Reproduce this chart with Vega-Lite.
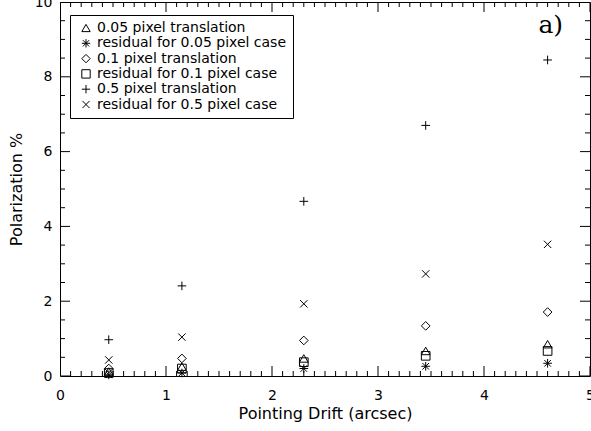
{
  "$schema": "https://vega.github.io/schema/vega-lite/v6.json",
  "width": 530,
  "height": 374,
  "autosize": {"type": "none"},
  "padding": {"left": 60, "top": 2, "right": 1, "bottom": 55},
  "background": "white",
  "config": {
    "view": {"stroke": "black", "strokeWidth": 1},
    "axis": {
      "grid": false,
      "domain": false,
      "labelFont": "DejaVu Sans",
      "labelFontSize": 14,
      "labelColor": "black",
      "titleFont": "DejaVu Sans",
      "titleFontSize": 16,
      "titleFontWeight": "normal",
      "titleColor": "black",
      "labelFlush": false,
      "labelOverlap": false
    },
    "legend": {
      "strokeColor": "black",
      "strokeWidth": 1,
      "padding": 6,
      "labelFont": "DejaVu Sans",
      "labelFontSize": 14,
      "labelColor": "black",
      "labelLimit": 400,
      "symbolSize": 70,
      "symbolStrokeWidth": 1,
      "symbolStrokeColor": "black",
      "symbolFillColor": "transparent",
      "rowPadding": 1.3,
      "labelOffset": 4,
      "symbolOffset": 3
    }
  },
  "title": {
    "text": "Polarization error vs Pointing Drift for a 30% Circular Source",
    "orient": "bottom",
    "anchor": "start",
    "dx": -56,
    "offset": 10,
    "font": "DejaVu Sans",
    "fontSize": 20,
    "fontWeight": "normal",
    "color": "black"
  },
  "datasets": {
    "pts": [
      {"series": "0.05 pixel translation", "drift": 0.46, "pol": 0.12},
      {"series": "0.05 pixel translation", "drift": 1.15, "pol": 0.25},
      {"series": "0.05 pixel translation", "drift": 2.3, "pol": 0.47},
      {"series": "0.05 pixel translation", "drift": 3.45, "pol": 0.67},
      {"series": "0.05 pixel translation", "drift": 4.6, "pol": 0.85},
      {"series": "residual for 0.05 pixel case", "drift": 0.46, "pol": 0.03},
      {"series": "residual for 0.05 pixel case", "drift": 1.15, "pol": 0.08},
      {"series": "residual for 0.05 pixel case", "drift": 2.3, "pol": 0.2},
      {"series": "residual for 0.05 pixel case", "drift": 3.45, "pol": 0.26},
      {"series": "residual for 0.05 pixel case", "drift": 4.6, "pol": 0.34},
      {"series": "0.1 pixel translation", "drift": 0.46, "pol": 0.2},
      {"series": "0.1 pixel translation", "drift": 1.15, "pol": 0.47},
      {"series": "0.1 pixel translation", "drift": 2.3, "pol": 0.95},
      {"series": "0.1 pixel translation", "drift": 3.45, "pol": 1.34},
      {"series": "0.1 pixel translation", "drift": 4.6, "pol": 1.71},
      {"series": "residual for 0.1 pixel case", "drift": 0.46, "pol": 0.08},
      {"series": "residual for 0.1 pixel case", "drift": 1.15, "pol": 0.2},
      {"series": "residual for 0.1 pixel case", "drift": 2.3, "pol": 0.37},
      {"series": "residual for 0.1 pixel case", "drift": 3.45, "pol": 0.54},
      {"series": "residual for 0.1 pixel case", "drift": 4.6, "pol": 0.67},
      {"series": "0.5 pixel translation", "drift": 0.46, "pol": 0.97},
      {"series": "0.5 pixel translation", "drift": 1.15, "pol": 2.41},
      {"series": "0.5 pixel translation", "drift": 2.3, "pol": 4.67},
      {"series": "0.5 pixel translation", "drift": 3.45, "pol": 6.7},
      {"series": "0.5 pixel translation", "drift": 4.6, "pol": 8.45},
      {"series": "residual for 0.5 pixel case", "drift": 0.46, "pol": 0.43},
      {"series": "residual for 0.5 pixel case", "drift": 1.15, "pol": 1.04},
      {"series": "residual for 0.5 pixel case", "drift": 2.3, "pol": 1.93},
      {"series": "residual for 0.5 pixel case", "drift": 3.45, "pol": 2.73},
      {"series": "residual for 0.5 pixel case", "drift": 4.6, "pol": 3.52}
    ],
    "xticks": [
      {"v": 0, "kind": "major"}, {"v": 0.1, "kind": "minor"}, {"v": 0.2, "kind": "minor"}, {"v": 0.3, "kind": "minor"}, {"v": 0.4, "kind": "minor"}, {"v": 0.5, "kind": "minor"}, {"v": 0.6, "kind": "minor"}, {"v": 0.7, "kind": "minor"}, {"v": 0.8, "kind": "minor"}, {"v": 0.9, "kind": "minor"},
      {"v": 1, "kind": "major"}, {"v": 1.1, "kind": "minor"}, {"v": 1.2, "kind": "minor"}, {"v": 1.3, "kind": "minor"}, {"v": 1.4, "kind": "minor"}, {"v": 1.5, "kind": "minor"}, {"v": 1.6, "kind": "minor"}, {"v": 1.7, "kind": "minor"}, {"v": 1.8, "kind": "minor"}, {"v": 1.9, "kind": "minor"},
      {"v": 2, "kind": "major"}, {"v": 2.1, "kind": "minor"}, {"v": 2.2, "kind": "minor"}, {"v": 2.3, "kind": "minor"}, {"v": 2.4, "kind": "minor"}, {"v": 2.5, "kind": "minor"}, {"v": 2.6, "kind": "minor"}, {"v": 2.7, "kind": "minor"}, {"v": 2.8, "kind": "minor"}, {"v": 2.9, "kind": "minor"},
      {"v": 3, "kind": "major"}, {"v": 3.1, "kind": "minor"}, {"v": 3.2, "kind": "minor"}, {"v": 3.3, "kind": "minor"}, {"v": 3.4, "kind": "minor"}, {"v": 3.5, "kind": "minor"}, {"v": 3.6, "kind": "minor"}, {"v": 3.7, "kind": "minor"}, {"v": 3.8, "kind": "minor"}, {"v": 3.9, "kind": "minor"},
      {"v": 4, "kind": "major"}, {"v": 4.1, "kind": "minor"}, {"v": 4.2, "kind": "minor"}, {"v": 4.3, "kind": "minor"}, {"v": 4.4, "kind": "minor"}, {"v": 4.5, "kind": "minor"}, {"v": 4.6, "kind": "minor"}, {"v": 4.7, "kind": "minor"}, {"v": 4.8, "kind": "minor"}, {"v": 4.9, "kind": "minor"},
      {"v": 5, "kind": "major"}
    ],
    "yticks": [
      {"v": 0, "kind": "major"}, {"v": 0.5, "kind": "minor"}, {"v": 1, "kind": "minor"}, {"v": 1.5, "kind": "minor"},
      {"v": 2, "kind": "major"}, {"v": 2.5, "kind": "minor"}, {"v": 3, "kind": "minor"}, {"v": 3.5, "kind": "minor"},
      {"v": 4, "kind": "major"}, {"v": 4.5, "kind": "minor"}, {"v": 5, "kind": "minor"}, {"v": 5.5, "kind": "minor"},
      {"v": 6, "kind": "major"}, {"v": 6.5, "kind": "minor"}, {"v": 7, "kind": "minor"}, {"v": 7.5, "kind": "minor"},
      {"v": 8, "kind": "major"}, {"v": 8.5, "kind": "minor"}, {"v": 9, "kind": "minor"}, {"v": 9.5, "kind": "minor"},
      {"v": 10, "kind": "major"}
    ],
    "note": [
      {"drift": 4.63, "pol": 9.17, "label": "a)"}
    ]
  },
  "layer": [
    {
      "data": {"name": "pts"},
      "mark": {"type": "point", "filled": false, "color": "black", "strokeWidth": 1, "size": 75, "opacity": 1},
      "encoding": {
        "x": {
          "field": "drift", "type": "quantitative", "title": "Pointing Drift (arcsec)",
          "scale": {"domain": [0, 5], "nice": false, "zero": false},
          "axis": {"orient": "bottom", "values": [0, 1, 2, 3, 4, 5], "format": "d", "ticks": false, "labelPadding": 12, "title": "Pointing Drift (arcsec)", "titlePadding": 3}
        },
        "y": {
          "field": "pol", "type": "quantitative", "title": "Polarization %",
          "scale": {"domain": [0, 10], "nice": false, "zero": false},
          "axis": {"orient": "left", "values": [0, 2, 4, 6, 8, 10], "format": "d", "ticks": false, "labelPadding": 8, "title": "Polarization %", "titlePadding": 10}
        },
        "shape": {
          "field": "series", "type": "nominal",
          "scale": {
            "domain": ["0.05 pixel translation", "residual for 0.05 pixel case", "0.1 pixel translation", "residual for 0.1 pixel case", "0.5 pixel translation", "residual for 0.5 pixel case"],
            "range": ["triangle-up", "M-1,0L1,0M0,-1L0,1M-0.75,-0.75L0.75,0.75M-0.75,0.75L0.75,-0.75", "diamond", "square", "M-1,0L1,0M0,-1L0,1", "M-0.85,-0.85L0.85,0.85M-0.85,0.85L0.85,-0.85"]
          },
          "legend": {"orient": "none", "legendX": 10, "legendY": 13, "title": null}
        }
      }
    },
    {
      "data": {"name": "xticks"},
      "mark": {"type": "tick", "orient": "vertical", "color": "black", "thickness": 1, "clip": true, "opacity": 1},
      "encoding": {
        "x": {"field": "v", "type": "quantitative", "title": "Pointing Drift (arcsec)"},
        "y": {"datum": 0, "type": "quantitative", "title": "Polarization %"},
        "size": {"field": "kind", "type": "nominal", "scale": {"domain": ["major", "minor"], "range": [20, 10]}, "legend": null}
      }
    },
    {
      "data": {"name": "xticks"},
      "mark": {"type": "tick", "orient": "vertical", "color": "black", "thickness": 1, "clip": true, "opacity": 1},
      "encoding": {
        "x": {"field": "v", "type": "quantitative", "title": "Pointing Drift (arcsec)"},
        "y": {"datum": 10, "type": "quantitative", "title": "Polarization %"},
        "size": {"field": "kind", "type": "nominal", "scale": {"domain": ["major", "minor"], "range": [20, 10]}, "legend": null}
      }
    },
    {
      "data": {"name": "yticks"},
      "mark": {"type": "tick", "orient": "horizontal", "color": "black", "thickness": 1, "clip": true, "opacity": 1},
      "encoding": {
        "y": {"field": "v", "type": "quantitative", "title": "Polarization %"},
        "x": {"datum": 0, "type": "quantitative", "title": "Pointing Drift (arcsec)"},
        "size": {"field": "kind", "type": "nominal", "scale": {"domain": ["major", "minor"], "range": [20, 10]}, "legend": null}
      }
    },
    {
      "data": {"name": "yticks"},
      "mark": {"type": "tick", "orient": "horizontal", "color": "black", "thickness": 1, "clip": true, "opacity": 1},
      "encoding": {
        "y": {"field": "v", "type": "quantitative", "title": "Polarization %"},
        "x": {"datum": 5, "type": "quantitative", "title": "Pointing Drift (arcsec)"},
        "size": {"field": "kind", "type": "nominal", "scale": {"domain": ["major", "minor"], "range": [20, 10]}, "legend": null}
      }
    },
    {
      "data": {"name": "note"},
      "mark": {"type": "text", "font": "DejaVu Serif", "fontSize": 25, "align": "center", "baseline": "alphabetic", "color": "black"},
      "encoding": {
        "x": {"field": "drift", "type": "quantitative", "title": "Pointing Drift (arcsec)"},
        "y": {"field": "pol", "type": "quantitative", "title": "Polarization %"},
        "text": {"field": "label"}
      }
    }
  ]
}
